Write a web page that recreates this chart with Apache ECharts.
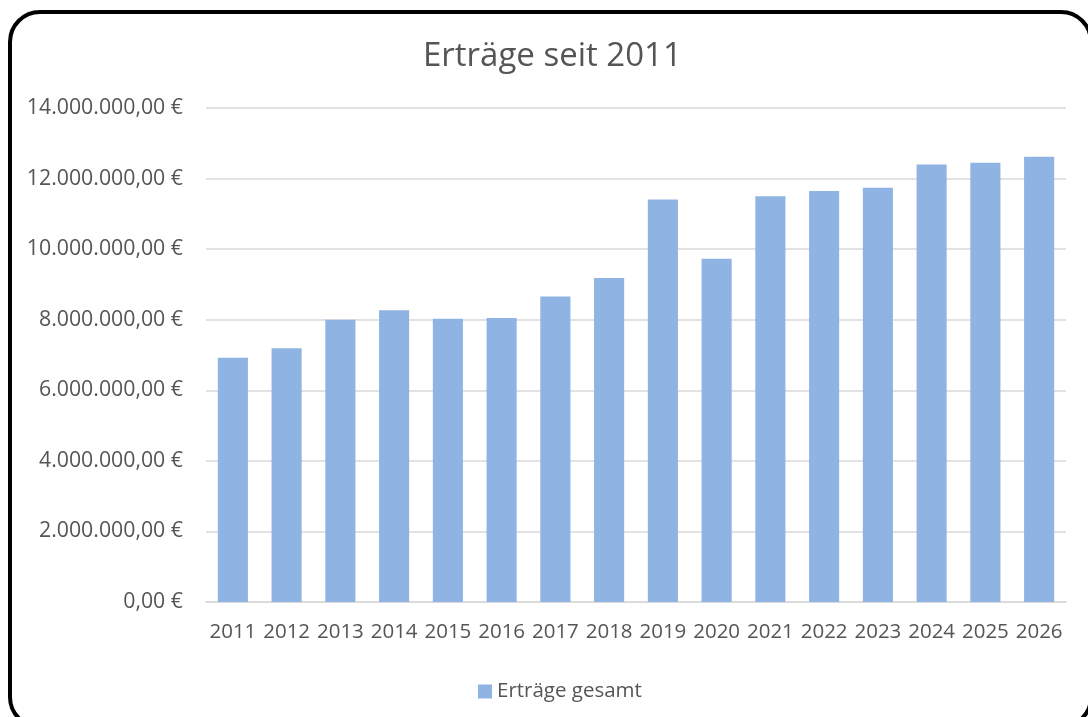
<!DOCTYPE html>
<html>
<head>
<meta charset="utf-8">
<script src="https://cdn.jsdelivr.net/npm/echarts@6/dist/echarts.min.js"></script>
<style>
html,body{margin:0;padding:0;background:#fff;overflow:hidden;}
#chart{position:absolute;left:0;top:0;width:1088px;height:717px;}
#frame{position:absolute;left:8px;top:10px;width:1085px;height:719px;border:4px solid #000;border-radius:32px;box-sizing:border-box;pointer-events:none;}
</style>
</head>
<body>
<div id="chart"></div>
<div id="frame"></div>
<script>
const titleText = 'Erträge seit 2011';
const seriesName = 'Erträge gesamt';
const years = ['2011','2012','2013','2014','2015','2016','2017','2018','2019','2020','2021','2022','2023','2024','2025','2026'];
const values = [6920000, 7190000, 8000000, 8270000, 8030000, 8050000, 8660000, 9180000, 11410000, 9730000, 11500000, 11650000, 11740000, 12400000, 12450000, 12620000];
const yMin = 0, yMax = 14000000, yStep = 2000000;

function fmtEuro(v){
  const parts = Math.round(v).toString().replace(/\B(?=(\d{3})+(?!\d))/g, '.');
  return parts + ',00 €';
}

const font = '"Open Sans", "Noto Sans", sans-serif';
const txt = '#555555';
const chart = echarts.init(document.getElementById('chart'));
chart.setOption({
  backgroundColor: '#fff',
  animation: false,
  title: {
    text: titleText, left: 418, top: 35,
    textStyle: {fontFamily: font, fontSize: 33, fontWeight: 'normal', color: txt}
  },
  legend: {
    data: [seriesName], left: 473, top: 676,
    itemWidth: 14, itemHeight: 14, itemGap: 6, icon: 'rect',
    textStyle: {fontFamily: font, fontSize: 20.5, color: txt, padding: [0,0,0,0]}
  },
  grid: {left: 206, right: 22, top: 108, bottom: 115, containLabel: false},
  xAxis: {
    type: 'category', data: years,
    axisLine: {lineStyle: {color: '#d9d9d9', width: 1.5}},
    axisTick: {show: false},
    axisLabel: {interval: 0, margin: 20, fontFamily: font, fontSize: 20.5, color: txt}
  },
  yAxis: {
    type: 'value', min: yMin, max: yMax, interval: yStep,
    axisLine: {show: false}, axisTick: {show: false},
    splitLine: {lineStyle: {color: '#d9d9d9', width: 1.5}},
    axisLabel: {margin: 23, fontFamily: font, fontSize: 21.3, color: txt, formatter: fmtEuro}
  },
  series: [{
    name: seriesName, type: 'bar', data: values,
    barCategoryGap: '44%',
    itemStyle: {color: '#8fb3e2'}
  }]
});
</script>
</body>
</html>
